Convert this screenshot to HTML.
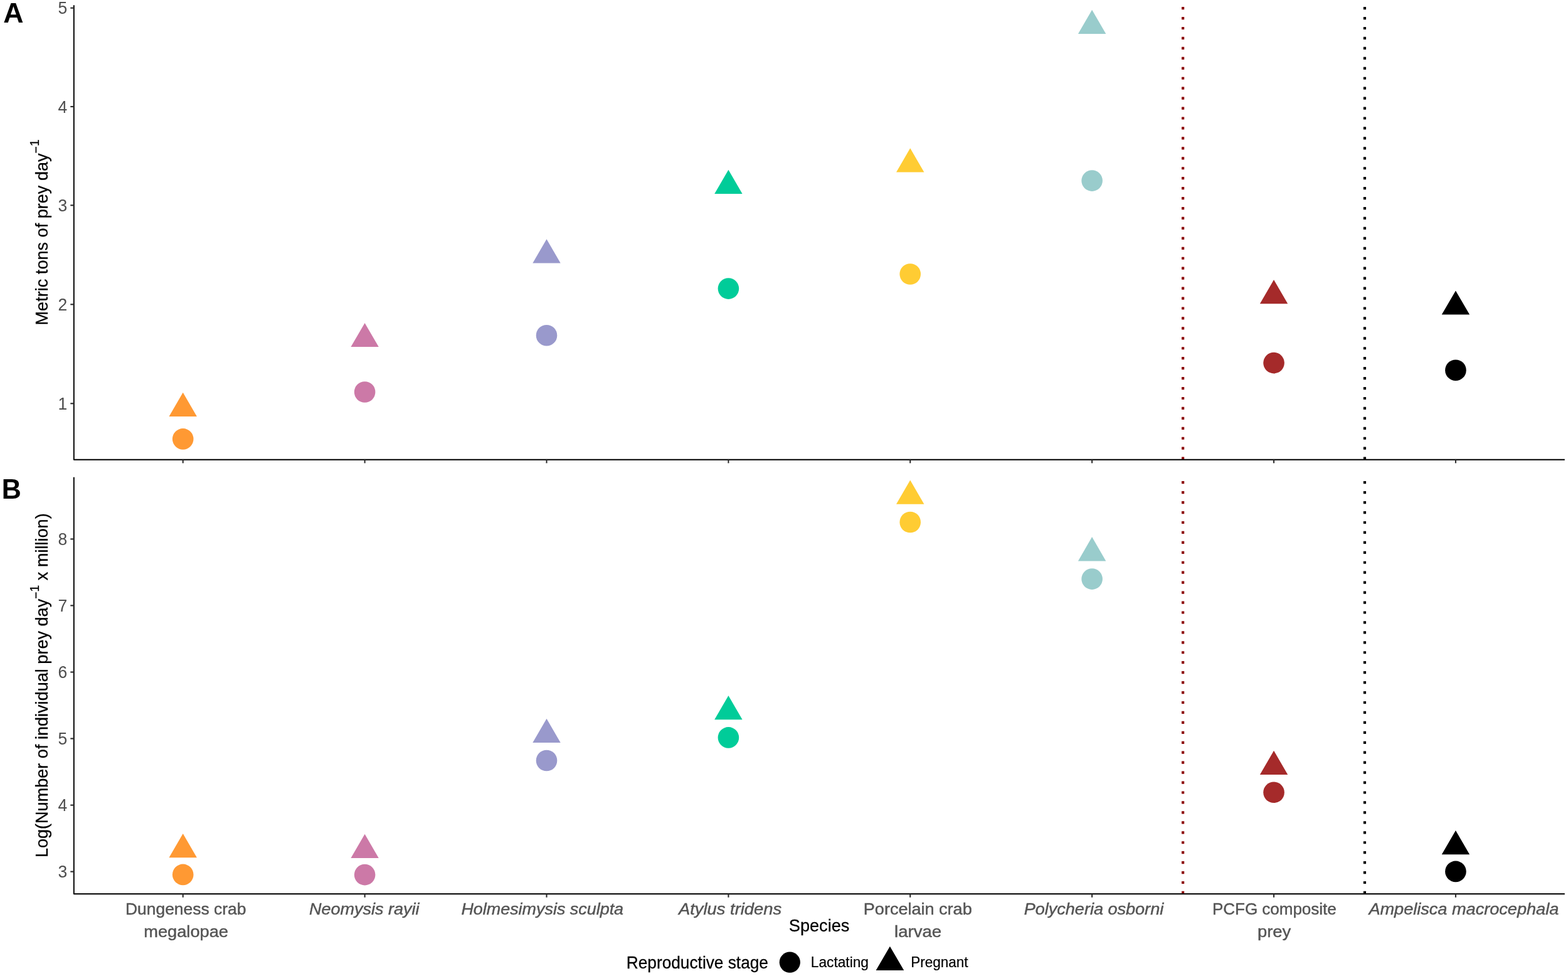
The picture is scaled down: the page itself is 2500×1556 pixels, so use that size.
<!DOCTYPE html>
<html lang="en">
<head>
<meta charset="utf-8">
<title>Prey requirements by species and reproductive stage</title>
<style>
html,body{margin:0;padding:0;background:#fff;}
body{width:2500px;height:1556px;overflow:hidden;}
svg{display:block;}
text{font-family:"Liberation Sans",sans-serif;}
.tk{font-size:26.5px;fill:#4d4d4d;text-anchor:end;}
.ti{font-size:27.0px;fill:#000;stroke:#000;stroke-width:0.25px;}
.xl{font-size:26.3px;fill:#555555;stroke:#555555;stroke-width:0.45px;}
.it{font-style:italic;}
.lg{font-size:22px;fill:#000;stroke:#000;stroke-width:0.2px;}
.lt{font-size:26.259px;fill:#000;stroke:#000;stroke-width:0.25px;}
.pl{font-size:43px;font-weight:bold;fill:#000;}
</style>
</head>
<body>
<svg width="2500" height="1556" viewBox="0 0 2500 1556">
<rect width="2500" height="1556" fill="#ffffff"/>
<g id="panel-a">
<line x1="1886.06" y1="732.75" x2="1886.06" y2="8.20" stroke="#8E0000" stroke-width="4.2" stroke-dasharray="4.2 11.745"/>
<line x1="2175.93" y1="732.75" x2="2175.93" y2="8.20" stroke="#000000" stroke-width="4.2" stroke-dasharray="4.2 11.745"/>
<polygon points="291.7,625.8 313.9,664.1 269.5,664.1" fill="#FF9933"/>
<circle cx="291.7" cy="699.9" r="16.8" fill="#FF9933"/>
<polygon points="581.6,514.9 603.8,553.1 559.4,553.1" fill="#CC79A7"/>
<circle cx="581.6" cy="625.0" r="16.8" fill="#CC79A7"/>
<polygon points="871.5,381.2 893.7,419.5 849.3,419.5" fill="#9999CC"/>
<circle cx="871.5" cy="534.7" r="16.8" fill="#9999CC"/>
<polygon points="1161.4,270.8 1183.6,309.1 1139.2,309.1" fill="#00CC99"/>
<circle cx="1161.4" cy="460.1" r="16.8" fill="#00CC99"/>
<polygon points="1451.2,236.3 1473.4,274.6 1429.0,274.6" fill="#FFCC33"/>
<circle cx="1451.2" cy="437.0" r="16.8" fill="#FFCC33"/>
<polygon points="1741.1,15.8 1763.3,54.1 1718.9,54.1" fill="#99CCCC"/>
<circle cx="1741.1" cy="288.1" r="16.8" fill="#99CCCC"/>
<polygon points="2031.0,446.0 2053.2,484.3 2008.8,484.3" fill="#A52A2A"/>
<circle cx="2031.0" cy="578.6" r="16.8" fill="#A52A2A"/>
<polygon points="2320.9,463.4 2343.1,501.6 2298.7,501.6" fill="#000000"/>
<circle cx="2320.9" cy="590.2" r="16.8" fill="#000000"/>
<path d="M117.8,8.2 V732.9 H2494.8" fill="none" stroke="#171717" stroke-width="2.2" stroke-linejoin="bevel"/>
<line x1="112.3" y1="12.7" x2="117.8" y2="12.7" stroke="#2b2b2b" stroke-width="2.1"/>
<text class="tk" transform="translate(107.2,22.40) scale(1,1.045)">5</text>
<line x1="112.3" y1="170.0" x2="117.8" y2="170.0" stroke="#2b2b2b" stroke-width="2.1"/>
<text class="tk" transform="translate(107.2,179.70) scale(1,1.045)">4</text>
<line x1="112.3" y1="327.3" x2="117.8" y2="327.3" stroke="#2b2b2b" stroke-width="2.1"/>
<text class="tk" transform="translate(107.2,337.00) scale(1,1.045)">3</text>
<line x1="112.3" y1="485.3" x2="117.8" y2="485.3" stroke="#2b2b2b" stroke-width="2.1"/>
<text class="tk" transform="translate(107.2,495.00) scale(1,1.045)">2</text>
<line x1="112.3" y1="643.3" x2="117.8" y2="643.3" stroke="#2b2b2b" stroke-width="2.1"/>
<text class="tk" transform="translate(107.2,653.00) scale(1,1.045)">1</text>
<line x1="291.7" y1="732.9" x2="291.7" y2="738.4" stroke="#2b2b2b" stroke-width="2.1"/>
<line x1="581.6" y1="732.9" x2="581.6" y2="738.4" stroke="#2b2b2b" stroke-width="2.1"/>
<line x1="871.5" y1="732.9" x2="871.5" y2="738.4" stroke="#2b2b2b" stroke-width="2.1"/>
<line x1="1161.4" y1="732.9" x2="1161.4" y2="738.4" stroke="#2b2b2b" stroke-width="2.1"/>
<line x1="1451.2" y1="732.9" x2="1451.2" y2="738.4" stroke="#2b2b2b" stroke-width="2.1"/>
<line x1="1741.1" y1="732.9" x2="1741.1" y2="738.4" stroke="#2b2b2b" stroke-width="2.1"/>
<line x1="2031.0" y1="732.9" x2="2031.0" y2="738.4" stroke="#2b2b2b" stroke-width="2.1"/>
<line x1="2320.9" y1="732.9" x2="2320.9" y2="738.4" stroke="#2b2b2b" stroke-width="2.1"/>
</g>
<g id="panel-b">
<line x1="1886.06" y1="1425.05" x2="1886.06" y2="760.80" stroke="#8E0000" stroke-width="4.2" stroke-dasharray="4.2 11.745"/>
<line x1="2175.93" y1="1425.05" x2="2175.93" y2="760.80" stroke="#000000" stroke-width="4.2" stroke-dasharray="4.2 11.745"/>
<polygon points="291.7,1328.9 313.9,1367.2 269.5,1367.2" fill="#FF9933"/>
<circle cx="291.7" cy="1394.4" r="16.8" fill="#FF9933"/>
<polygon points="581.6,1329.8 603.8,1368.1 559.4,1368.1" fill="#CC79A7"/>
<circle cx="581.6" cy="1394.6" r="16.8" fill="#CC79A7"/>
<polygon points="871.5,1145.8 893.7,1184.1 849.3,1184.1" fill="#9999CC"/>
<circle cx="871.5" cy="1212.5" r="16.8" fill="#9999CC"/>
<polygon points="1161.4,1108.9 1183.6,1147.2 1139.2,1147.2" fill="#00CC99"/>
<circle cx="1161.4" cy="1175.9" r="16.8" fill="#00CC99"/>
<polygon points="1451.2,765.5 1473.4,803.8 1429.0,803.8" fill="#FFCC33"/>
<circle cx="1451.2" cy="832.5" r="16.8" fill="#FFCC33"/>
<polygon points="1741.1,856.1 1763.3,894.4 1718.9,894.4" fill="#99CCCC"/>
<circle cx="1741.1" cy="923.1" r="16.8" fill="#99CCCC"/>
<polygon points="2031.0,1196.7 2053.2,1235.0 2008.8,1235.0" fill="#A52A2A"/>
<circle cx="2031.0" cy="1263.3" r="16.8" fill="#A52A2A"/>
<polygon points="2320.9,1324.0 2343.1,1362.3 2298.7,1362.3" fill="#000000"/>
<circle cx="2320.9" cy="1389.4" r="16.8" fill="#000000"/>
<path d="M117.8,760.8 V1425.2 H2494.8" fill="none" stroke="#171717" stroke-width="2.2" stroke-linejoin="bevel"/>
<line x1="112.3" y1="859.4" x2="117.8" y2="859.4" stroke="#2b2b2b" stroke-width="2.1"/>
<text class="tk" transform="translate(107.2,869.10) scale(1,1.045)">8</text>
<line x1="112.3" y1="965.4" x2="117.8" y2="965.4" stroke="#2b2b2b" stroke-width="2.1"/>
<text class="tk" transform="translate(107.2,975.10) scale(1,1.045)">7</text>
<line x1="112.3" y1="1071.5" x2="117.8" y2="1071.5" stroke="#2b2b2b" stroke-width="2.1"/>
<text class="tk" transform="translate(107.2,1081.20) scale(1,1.045)">6</text>
<line x1="112.3" y1="1177.5" x2="117.8" y2="1177.5" stroke="#2b2b2b" stroke-width="2.1"/>
<text class="tk" transform="translate(107.2,1187.20) scale(1,1.045)">5</text>
<line x1="112.3" y1="1283.6" x2="117.8" y2="1283.6" stroke="#2b2b2b" stroke-width="2.1"/>
<text class="tk" transform="translate(107.2,1293.30) scale(1,1.045)">4</text>
<line x1="112.3" y1="1389.6" x2="117.8" y2="1389.6" stroke="#2b2b2b" stroke-width="2.1"/>
<text class="tk" transform="translate(107.2,1399.30) scale(1,1.045)">3</text>
<line x1="291.7" y1="1425.2" x2="291.7" y2="1430.7" stroke="#2b2b2b" stroke-width="2.1"/>
<line x1="581.6" y1="1425.2" x2="581.6" y2="1430.7" stroke="#2b2b2b" stroke-width="2.1"/>
<line x1="871.5" y1="1425.2" x2="871.5" y2="1430.7" stroke="#2b2b2b" stroke-width="2.1"/>
<line x1="1161.4" y1="1425.2" x2="1161.4" y2="1430.7" stroke="#2b2b2b" stroke-width="2.1"/>
<line x1="1451.2" y1="1425.2" x2="1451.2" y2="1430.7" stroke="#2b2b2b" stroke-width="2.1"/>
<line x1="1741.1" y1="1425.2" x2="1741.1" y2="1430.7" stroke="#2b2b2b" stroke-width="2.1"/>
<line x1="2031.0" y1="1425.2" x2="2031.0" y2="1430.7" stroke="#2b2b2b" stroke-width="2.1"/>
<line x1="2320.9" y1="1425.2" x2="2320.9" y2="1430.7" stroke="#2b2b2b" stroke-width="2.1"/>
</g>
<text class="pl" transform="translate(5.2,35.9) scale(1,1.0)" style="font-size:44.7px">A</text>
<text class="pl" transform="translate(2.75,794.9) scale(1,1.04)">B</text>
<text class="ti" transform="translate(75.5,518.4) rotate(-90) scale(1,1.03)" style="letter-spacing:0.045px">Metric tons of prey day<tspan dy="-11.0" font-size="19.3px">−</tspan><tspan dy="-2.1" font-size="19.3px">1</tspan></text>
<text class="ti" transform="translate(75.5,1367.1) rotate(-90) scale(1,1.03)" style="letter-spacing:0.04px">Log(Number of individual prey day<tspan dy="-11.0" font-size="19.3px">−</tspan><tspan dy="-2.1" font-size="19.3px">1</tspan><tspan dy="13.1"> x million)</tspan></text>
<text class="xl" x="200.0" y="1458.1" textLength="192.4" lengthAdjust="spacingAndGlyphs">Dungeness crab</text>
<text class="xl" x="229.2" y="1494.4" textLength="134.8" lengthAdjust="spacingAndGlyphs">megalopae</text>
<text class="xl it" x="493.0" y="1458.1" textLength="175.5" lengthAdjust="spacingAndGlyphs">Neomysis rayii</text>
<text class="xl it" x="735.4" y="1458.1" textLength="258.7" lengthAdjust="spacingAndGlyphs">Holmesimysis sculpta</text>
<text class="xl it" x="1082.0" y="1458.1" textLength="164.2" lengthAdjust="spacingAndGlyphs">Atylus tridens</text>
<text class="xl" x="1376.8" y="1458.1" textLength="172.9" lengthAdjust="spacingAndGlyphs">Porcelain crab</text>
<text class="xl" x="1426.0" y="1494.4" textLength="75.1" lengthAdjust="spacingAndGlyphs">larvae</text>
<text class="xl it" x="1632.7" y="1458.1" textLength="222.5" lengthAdjust="spacingAndGlyphs">Polycheria osborni</text>
<text class="xl" x="1932.9" y="1458.1" textLength="197.9" lengthAdjust="spacingAndGlyphs">PCFG composite</text>
<text class="xl" x="2005.0" y="1494.4" textLength="53.1" lengthAdjust="spacingAndGlyphs">prey</text>
<text class="xl it" x="2182.4" y="1458.1" textLength="302.9" lengthAdjust="spacingAndGlyphs">Ampelisca macrocephala</text>
<text class="ti" transform="translate(1257.75,1485.1) scale(1,1.035)" style="font-size:27.184px">Species</text>
<text class="lt" transform="translate(998.75,1543.8) scale(1,1.035)">Reproductive stage</text>
<circle cx="1259.3" cy="1534.2" r="16.6" fill="#000"/>
<text class="lg" transform="translate(1292.8,1542.4) scale(1,1.035)" style="font-size:22.712px">Lactating</text>
<polygon points="1418.9,1508.7 1441.2,1547.0 1396.6,1547.0" fill="#000"/>
<text class="lg" transform="translate(1452.25,1542.4) scale(1,1.035)" style="font-size:22.526px">Pregnant</text>
</svg>
</body>
</html>
